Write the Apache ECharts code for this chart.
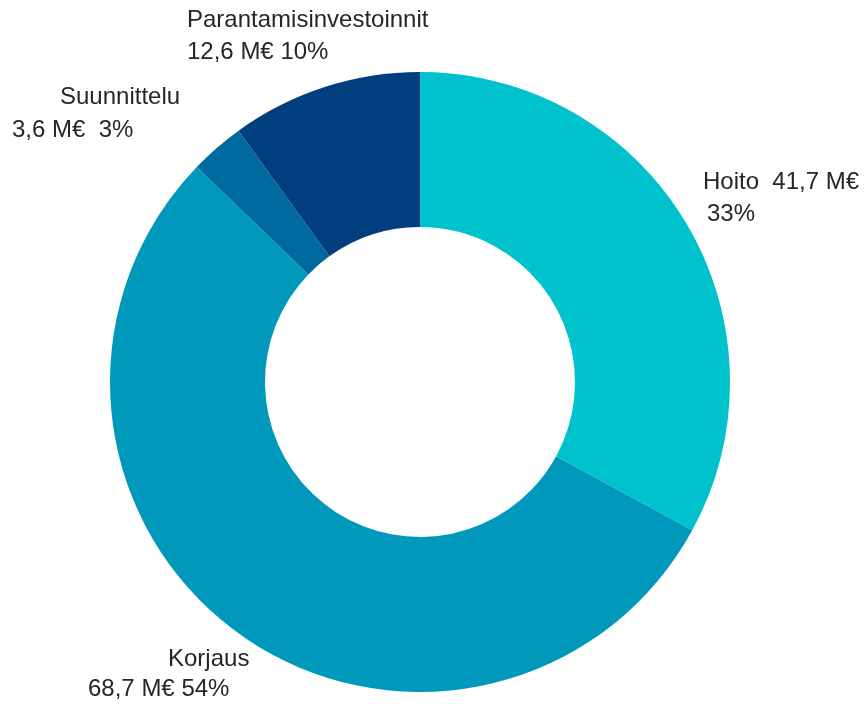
<!DOCTYPE html>
<html>
<head>
<meta charset="utf-8">
<script src="https://cdn.jsdelivr.net/npm/echarts@6/dist/echarts.min.js"></script>
<style>html,body{margin:0;padding:0;background:#fff}#c{width:864px;height:704px}</style>
</head>
<body>
<div id="c"></div>
<script>
const categories = ['Hoito', 'Korjaus', 'Suunnittelu', 'Parantamisinvestoinnit'];
const values = [41.7, 68.7, 3.6, 12.6];
const colors = ['#00C2CC', '#0099BC', '#006A9E', '#003E7E'];

// label placement (styling only)
const labelPos = [
  {x: 703, y: 166, lh: 32, pad1: 0, pad2: 4},
  {x: 88, y: 644, lh: 30, pad1: 80, pad2: 0},
  {x: 12, y: 81, lh: 33, pad1: 48, pad2: 0},
  {x: 187, y: 4, lh: 32, pad1: 0, pad2: 0}
];
const total = values.reduce((a, b) => a + b, 0);
function fmt(v) { return v.toFixed(1).replace('.', ','); }
function pct(v) { return Math.round(v / total * 100) + '%'; }
const labelTexts = [
  (i) => '{a|' + categories[i] + '  ' + fmt(values[i]) + ' M€}\n{b|' + pct(values[i]) + '}',
  (i) => '{a|' + categories[i] + '}\n{b|' + fmt(values[i]) + ' M€ ' + pct(values[i]) + '}',
  (i) => '{a|' + categories[i] + '}\n{b|' + fmt(values[i]) + ' M€  ' + pct(values[i]) + '}',
  (i) => '{a|' + categories[i] + '}\n{b|' + fmt(values[i]) + ' M€ ' + pct(values[i]) + '}'
];

const data = categories.map((name, i) => ({
  name: name,
  value: values[i],
  itemStyle: {color: colors[i]},
  label: {
    formatter: labelTexts[i](i),
    overflow: 'none',
    rich: {
      a: {fontSize: 24, fontFamily: 'Liberation Sans', color: '#262626', lineHeight: labelPos[i].lh, padding: [0, 0, 0, labelPos[i].pad1]},
      b: {fontSize: 24, fontFamily: 'Liberation Sans', color: '#262626', lineHeight: labelPos[i].lh, padding: [0, 0, 0, labelPos[i].pad2]}
    }
  }
}));

const chart = echarts.init(document.getElementById('c'));
chart.setOption({
  animation: false,
  series: [{
    type: 'pie',
    center: [420, 382],
    radius: [155, 310],
    startAngle: 90,
    clockwise: true,
    silent: true,
    data: data,
    label: {show: true, position: 'outside', align: 'left', overflow: 'none'},
    labelLine: {show: false},
    labelLayout: function (p) {
      const lp = labelPos[p.dataIndex];
      return {x: lp.x, y: lp.y, align: 'left', verticalAlign: 'top', hideOverlap: false};
    }
  }]
});
</script>
</body>
</html>
